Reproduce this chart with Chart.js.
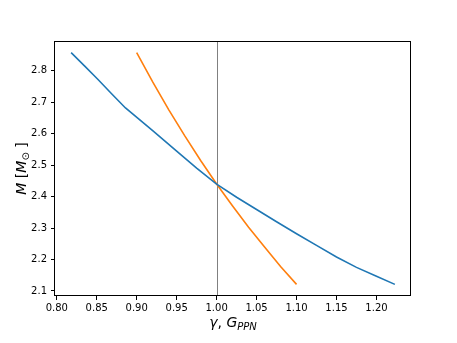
<!DOCTYPE html>
<html><head><meta charset="utf-8">
<script src="https://cdn.jsdelivr.net/npm/chart.js@4/dist/chart.umd.min.js"></script>
<style>html,body{margin:0;padding:0;background:#fff}canvas{display:block}</style>
</head><body>
<canvas id="c" width="457" height="343"></canvas>
<script>
// gamma curve (blue)
const gammaX = [0.818, 0.835, 0.851, 0.868, 0.886, 0.920, 0.950, 0.975, 1.000, 1.025, 1.050, 1.075, 1.100, 1.125, 1.150, 1.175, 1.200, 1.223];
const gammaM = [2.858, 2.815, 2.774, 2.729, 2.682, 2.610, 2.545, 2.491, 2.440, 2.398, 2.359, 2.320, 2.282, 2.245, 2.208, 2.175, 2.147, 2.121];
// G_PPN curve (orange)
const gppnX = [0.900, 0.920, 0.940, 0.960, 0.980, 1.000, 1.020, 1.040, 1.060, 1.080, 1.100];
const gppnM = [2.858, 2.765, 2.677, 2.594, 2.515, 2.440, 2.370, 2.303, 2.240, 2.178, 2.121];
const xTicks = [0.80, 0.85, 0.90, 0.95, 1.00, 1.05, 1.10, 1.15, 1.20];
const yTicks = [2.1, 2.2, 2.3, 2.4, 2.5, 2.6, 2.7, 2.8];
const refLineX = 1.0;
const xRange = [0.7978, 1.2432];
const yRange = [2.084, 2.895];

const toPts = (xs, ys) => xs.map((x, i) => ({x: x, y: ys[i]}));

const frame = {
  id: 'frame',
  beforeDatasetsDraw(chart) {
    const ctx = chart.ctx, ca = chart.chartArea;
    const px = Math.round(chart.scales.x.getPixelForValue(refLineX)) + 0.5;
    ctx.save();
    ctx.strokeStyle = '#808080';
    ctx.lineWidth = 1;
    ctx.beginPath();
    ctx.moveTo(px, ca.top);
    ctx.lineTo(px, ca.bottom);
    ctx.stroke();
    ctx.restore();
  },
  afterDraw(chart) {
    const ctx = chart.ctx, ca = chart.chartArea;
    ctx.save();
    ctx.strokeStyle = '#000';
    ctx.lineWidth = 1;
    const l = Math.round(ca.left) - 0.5, t = Math.round(ca.top) + 0.5;
    const r = Math.round(ca.right) - 0.5, b = Math.round(ca.bottom) - 0.5;
    ctx.strokeRect(l, t, r - l, b - t);
    ctx.fillStyle = '#000';
    ctx.textBaseline = 'alphabetic';
    // x title: gamma, G_PPN
    const big = 'italic 14px "DejaVu Sans"', small = 'italic 10px "DejaVu Sans"';
    const xParts = [{t: 'γ', f: big, dy: 0}, {t: ', ', f: '14px "DejaVu Sans"', dy: 0}, {t: 'G', f: big, dy: 0}, {t: 'PPN', f: small, dy: 3}];
    let w = 0;
    xParts.forEach(p => { ctx.font = p.f; p.w = ctx.measureText(p.t).width; w += p.w; });
    let x = (ca.left + ca.right) / 2 - w / 2;
    const by = 327;
    ctx.textAlign = 'left';
    xParts.forEach(p => { ctx.font = p.f; ctx.fillText(p.t, x, by + p.dy); x += p.w; });
    // y title: M [M_sun]
    const yParts = [{t: 'M', f: big, dy: 0}, {t: ' [', f: '14px "DejaVu Sans"', dy: 0}, {t: 'M', f: big, dy: 0}, {t: '⊙', f: '10px "DejaVu Sans"', dy: 3}, {t: ' ]', f: '14px "DejaVu Sans"', dy: 0}];
    w = 0;
    yParts.forEach(p => { ctx.font = p.f; p.w = ctx.measureText(p.t).width; w += p.w; });
    ctx.translate(26, (ca.top + ca.bottom) / 2);
    ctx.rotate(-Math.PI / 2);
    x = -w / 2;
    yParts.forEach(p => { ctx.font = p.f; ctx.fillText(p.t, x, p.dy); x += p.w; });
    ctx.restore();
  }
};

new Chart(document.getElementById('c'), {
  type: 'scatter',
  data: {
    datasets: [
      {data: toPts(gammaX, gammaM), showLine: true, borderColor: '#1f77b4', borderWidth: 1.6, pointRadius: 0, tension: 0, fill: false},
      {data: toPts(gppnX, gppnM), showLine: true, borderColor: '#ff7f0e', borderWidth: 1.6, pointRadius: 0, tension: 0, fill: false}
    ]
  },
  options: {
    responsive: false,
    animation: false,
    devicePixelRatio: 1,
    layout: {padding: {left: 0, right: 46, top: 41, bottom: 0}},
    plugins: {legend: {display: false}, tooltip: {enabled: false}},
    scales: {
      x: {
        type: 'linear', min: xRange[0], max: xRange[1],
        afterBuildTicks: s => { s.ticks = xTicks.map(v => ({value: v})); },
        afterFit: s => { s.height = 47; },
        ticks: {callback: v => Number(v).toFixed(2), color: '#000', font: {family: 'DejaVu Sans', size: 10}, padding: 2, maxRotation: 0, autoSkip: false},
        grid: {drawOnChartArea: false, drawTicks: true, tickLength: 4, tickColor: '#000', color: '#000'},
        border: {display: false}
      },
      y: {
        type: 'linear', min: yRange[0], max: yRange[1],
        afterBuildTicks: s => { s.ticks = yTicks.map(v => ({value: v})); },
        afterFit: s => { s.width = 55; },
        ticks: {callback: v => Number(v).toFixed(1), color: '#000', font: {family: 'DejaVu Sans', size: 10}, padding: 4, autoSkip: false},
        grid: {drawOnChartArea: false, drawTicks: true, tickLength: 4, tickColor: '#000', color: '#000'},
        border: {display: false}
      }
    }
  },
  plugins: [frame]
});
</script>
</body></html>
